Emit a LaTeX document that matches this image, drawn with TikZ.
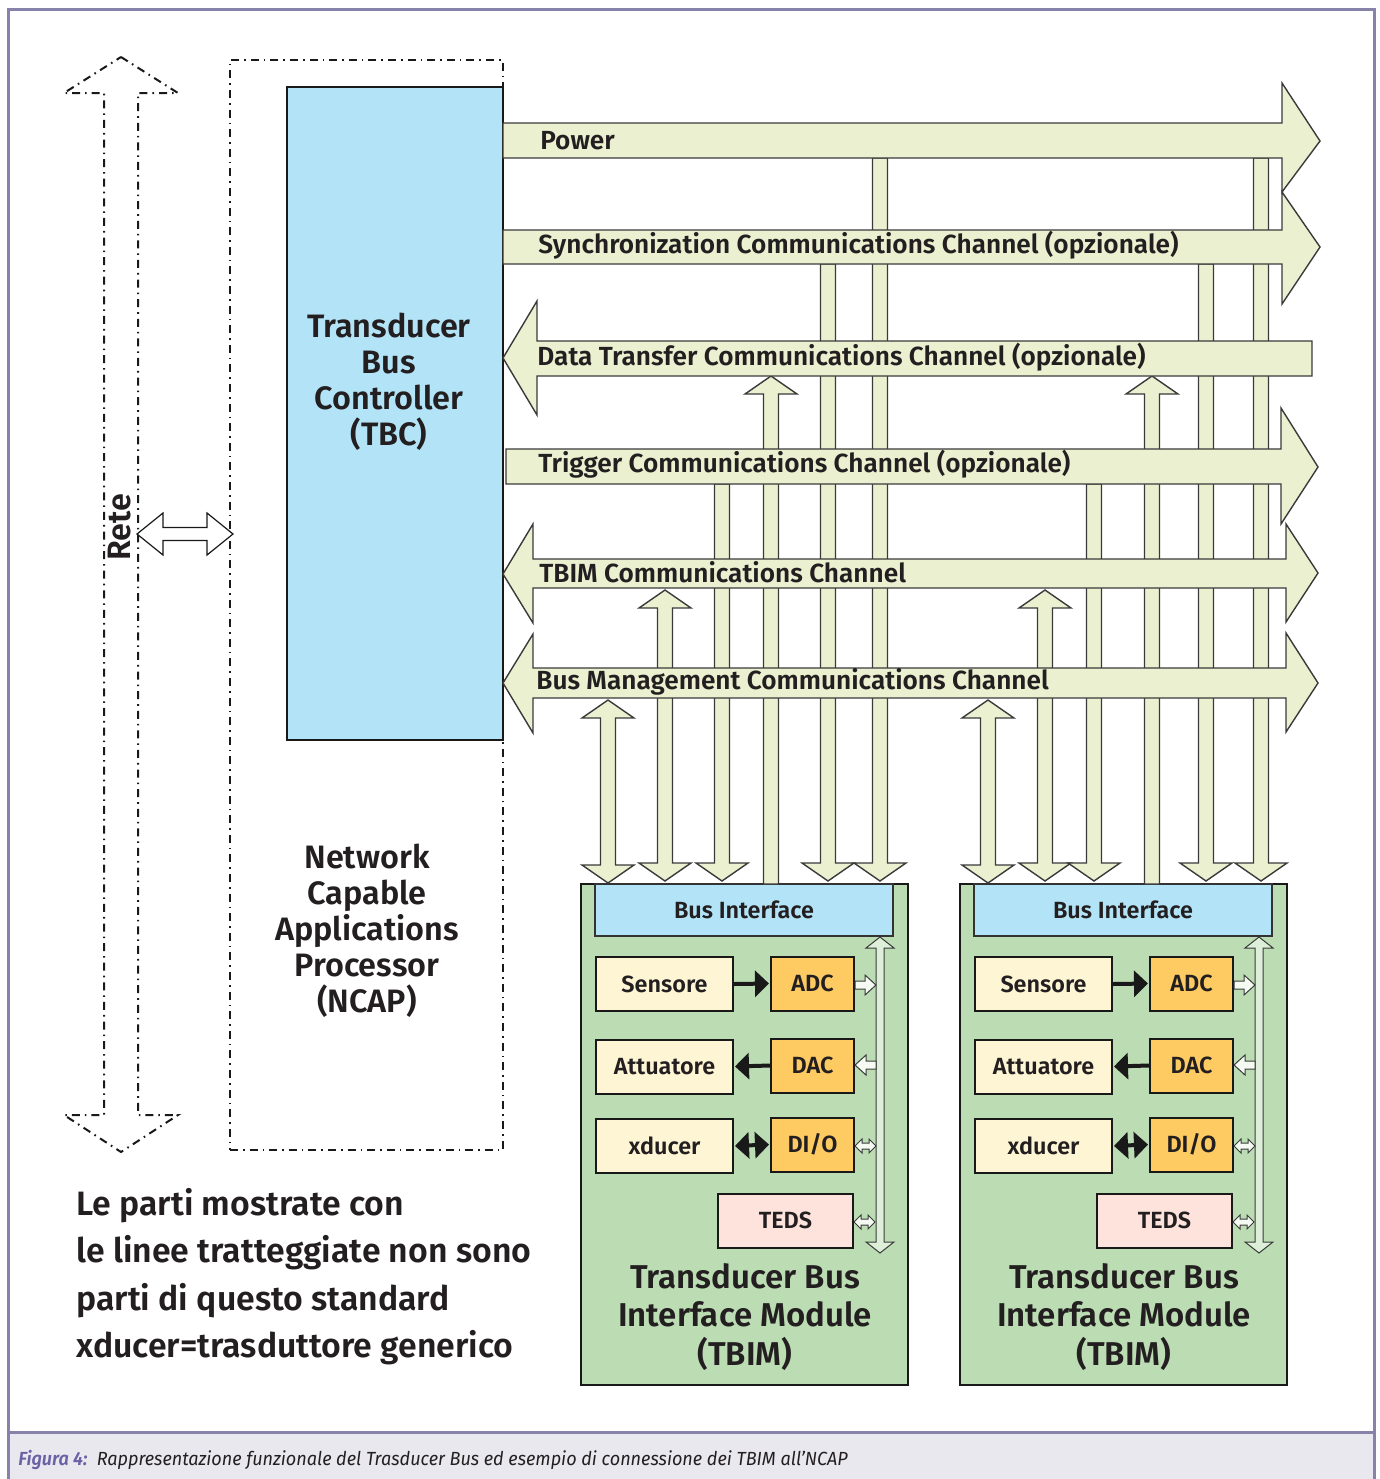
\documentclass[tikz,border=0pt]{standalone}
\usepackage{fontspec}
\setmainfont{Fira Sans}[BoldFont={Fira Sans SemiBold},BoldItalicFont={Fira Sans SemiBold Italic}]
\usetikzlibrary{arrows.meta}
\definecolor{chanfill}{HTML}{EAF0D0}
\definecolor{linegray}{HTML}{3A3A3A}
\definecolor{tbcblue}{HTML}{B3E3F7}
\definecolor{tbimgreen}{HTML}{BCDDB4}
\definecolor{creamc}{HTML}{FEF5D5}
\definecolor{orangec}{HTML}{FECB62}
\definecolor{pinkc}{HTML}{FDE3DB}
\definecolor{ibusc}{HTML}{DDEFD8}
\definecolor{framec}{HTML}{8682AA}
\definecolor{capbg}{HTML}{E9E8EF}
\definecolor{capblue}{HTML}{6B62A6}
\definecolor{textc}{HTML}{231F20}
\newcommand\FBig{\fontsize{16.2}{18}\selectfont\bfseries}
\newcommand\FChan{\fontsize{13.1}{15}\selectfont\bfseries}
\newcommand\FComp{\fontsize{11.7}{13}\selectfont\bfseries}
\newcommand\FNote{\fontsize{16.9}{20}\selectfont\bfseries}
\newcommand\FTitle{\fontsize{16.5}{19.3}\selectfont\bfseries}
\newcommand\FCap{\fontsize{9.5}{11}\selectfont\itshape}
% vertical bus arrows (x, ytop, ybottom) in px
\newcommand\VDown[3]{\draw[chan] (#1-7.5,#2) -- (#1-7.5,#3-18) -- (#1-26,#3-18) -- (#1,#3) -- (#1+26,#3-18) -- (#1+7.5,#3-18) -- (#1+7.5,#2) -- cycle;}
\newcommand\VUp[3]{\draw[chan] (#1-7.5,#3) -- (#1-7.5,#2+18) -- (#1-26,#2+18) -- (#1,#2) -- (#1+26,#2+18) -- (#1+7.5,#2+18) -- (#1+7.5,#3) -- cycle;}
\newcommand\VBoth[3]{\draw[chan] (#1-7.5,#3-18) -- (#1-7.5,#2+18) -- (#1-26,#2+18) -- (#1,#2) -- (#1+26,#2+18) -- (#1+7.5,#2+18) -- (#1+7.5,#3-18) -- (#1+26,#3-18) -- (#1,#3) -- (#1-26,#3-18) -- cycle;}
\newcommand\tbimmod[1]{%
  \node[draw=black!90, line width=1pt, fill=tbimgreen, minimum width=163.5pt, minimum height=250.5pt, inner sep=0pt] (#1box) at (744.5,1134.5) {};
  \node[draw=black!80, line width=0.8pt, fill=tbcblue, minimum width=149pt, minimum height=26pt, inner sep=0pt, font=\FComp] (#1bi) at (744,910) {Bus Interface};
  \node[comp, fill=creamc, minimum width=68.5pt] (#1sens) at (664.5,984) {Sensore};
  \node[comp, fill=orangec, minimum width=41.5pt] (#1adc) at (812.5,983.5) {ADC};
  \node[comp, fill=creamc, minimum width=68.5pt] (#1att) at (664.5,1066.5) {Attuatore};
  \node[comp, fill=orangec, minimum width=41.5pt] (#1dac) at (812.5,1065.5) {DAC};
  \node[comp, fill=creamc, minimum width=68.5pt] (#1xd) at (664.5,1146) {xducer};
  \node[comp, fill=orangec, minimum width=41.5pt] (#1dio) at (812.5,1144.5) {DI/O};
  \node[comp, fill=pinkc, minimum width=67.5pt] (#1teds) at (785.5,1220.5) {TEDS};
  \draw[thickarr] (#1sens.east) -- (#1adc.west);
  \draw[thickarr] (#1dac.west) -- (#1att.east);
  \draw[thickarr2] (#1xd.east) -- (#1dio.west);
  % internal bus
  \draw[ibus] (876,948) -- (866,948) -- (880,937) -- (894,948) -- (884,948) -- (884,1242) -- (894,1242) -- (880,1253) -- (866,1242) -- (876,1242) -- cycle;
  % small connectors
  \draw[sarr] (855,981) -- (865,981) -- (865,975) -- (876,985) -- (865,995) -- (865,989) -- (855,989) -- cycle;
  \draw[sarr] (876,1061) -- (866,1061) -- (866,1055) -- (855,1065) -- (866,1075) -- (866,1069) -- (876,1069) -- cycle;
  \draw[sarr] (855,1146) -- (862,1139) -- (862,1143) -- (869,1143) -- (869,1139) -- (876,1146) -- (869,1153) -- (869,1149) -- (862,1149) -- (862,1153) -- cycle;
  \draw[sarr] (854,1222) -- (861,1215) -- (861,1219) -- (868,1219) -- (868,1215) -- (875,1222) -- (868,1229) -- (868,1225) -- (861,1225) -- (861,1229) -- cycle;
  \node[align=center, font=\FTitle] (#1title) at (745,1317) {Transducer Bus\\Interface Module\\(TBIM)};
}
\begin{document}
\begin{tikzpicture}[x=0.5pt,y=-0.5pt,
  every node/.style={text=textc},
  chan/.style={fill=chanfill, draw=linegray, line width=0.7pt, line join=miter},
  comp/.style={draw=black!90, line width=1pt, inner sep=0pt, minimum height=27pt, font=\FComp},
  thickarr/.style={draw=black!90, line width=2pt, -{Triangle[length=7pt,width=13pt]}, shorten >=0.5pt},
  thickarr2/.style={draw=black!90, line width=2pt, {Triangle[length=7pt,width=13pt]}-{Triangle[length=7pt,width=13pt]}, shorten >=0.5pt, shorten <=0.5pt},
  ibus/.style={fill=ibusc, draw=linegray, line width=0.5pt},
  sarr/.style={fill=white!70!ibusc, draw=linegray, line width=0.5pt},
  dashdot/.style={draw=black!90, line width=1pt, dash pattern=on 4pt off 2.5pt on 0.8pt off 2.5pt}]
\useasboundingbox (0,0) rectangle (1380,1479);
% frame and caption band
\fill[capbg] (8,1432) rectangle (1374,1479);
\draw[framec, line width=1.5pt] (8,1479) -- (8,9) -- (1374,9) -- (1374,1479);
\draw[framec, line width=1.5pt] (8,1432) -- (1374,1432);
\node[anchor=base west, font=\FCap, inner sep=0pt] (caption) at (18,1465)
  {\scalebox{0.95}[1]{\textcolor{capblue}{\bfseries Figura 4:}\ \ Rappresentazione funzionale del Trasducer Bus ed esempio di connessione dei TBIM all’NCAP}};
% NCAP dash-dot region
\node[dashdot, minimum width=136.5pt, minimum height=545pt, inner sep=0pt] (ncap) at (366.5,605) {};
\node[align=center, font=\FBig] (ncaptext) at (367,931) {Network\\Capable\\Applications\\Processor\\(NCAP)};
% Rete arrow
\draw[dashdot] (121,57) -- (178,93) -- (138,93) -- (138,1115) -- (178,1115) -- (121,1152) -- (64,1115) -- (104,1115) -- (104,93) -- (64,93) -- cycle;
\node[rotate=90, font=\FBig] (rete) at (120,527) {Rete};
\draw[fill=white, draw=black!90, line width=0.6pt] (137,534) -- (163,513) -- (163,527.5) -- (207,527.5) -- (207,513) -- (233,534) -- (207,555) -- (207,540.5) -- (163,540.5) -- (163,555) -- cycle;
% TBC
\node[draw=black!90, line width=1pt, fill=tbcblue, minimum width=108pt, minimum height=326.5pt, inner sep=0pt] (tbc) at (395,413.5) {};
\node[align=center, font=\FBig] (tbctext) at (389,382) {Transducer\\Bus\\Controller\\(TBC)};
% TBIM modules
\tbimmod{a}
\begin{scope}[xshift=189.5pt]
\tbimmod{b}
\end{scope}
% vertical bus lines, TBIM 1
\VBoth{608}{700}{883}
\VBoth{665}{590}{881}
\VDown{722}{484}{881}
\VUp{771}{376}{884}
\VDown{828}{264}{881}
\VDown{880}{158}{881}
% vertical bus lines, TBIM 2
\VBoth{988}{700}{883}
\VBoth{1045}{590}{881}
\VDown{1094}{484}{881}
\VUp{1152}{376}{884}
\VDown{1206}{264}{881}
\VDown{1261}{158}{881}
% channels
\draw[chan] (503,123) -- (1282,123) -- (1282,83) -- (1320,141) -- (1282,192) -- (1282,158) -- (503,158) -- cycle;
\draw[chan] (503,230) -- (1282,230) -- (1282,192) -- (1320,247) -- (1282,304) -- (1282,264) -- (503,264) -- cycle;
\draw[chan] (1312,341) -- (537,341) -- (537,301) -- (503,358) -- (537,415) -- (537,376) -- (1312,376) -- cycle;
\draw[chan] (506,449) -- (1281,449) -- (1281,408) -- (1318,467) -- (1281,524) -- (1281,484) -- (506,484) -- cycle;
\draw[chan] (533,559) -- (1286,559) -- (1286,524) -- (1318,573) -- (1286,622) -- (1286,588) -- (533,588) -- (533,623) -- (503,574) -- (533,524) -- cycle;
\draw[chan] (533,668) -- (1286,668) -- (1286,633) -- (1318,683) -- (1286,732) -- (1286,698) -- (533,698) -- (533,733) -- (503,683) -- (533,634) -- cycle;
\node[anchor=base west, font=\FChan, inner sep=0pt] (lpower) at (540,149) {Power};
\node[anchor=base west, font=\FChan, inner sep=0pt] (lsync) at (538,253) {Synchronization Communications Channel (opzionale)};
\node[anchor=base west, font=\FChan, inner sep=0pt] (ldata) at (537,365) {Data Transfer Communications Channel (opzionale)};
\node[anchor=base west, font=\FChan, inner sep=0pt] (ltrig) at (538,472) {Trigger Communications Channel (opzionale)};
\node[anchor=base west, font=\FChan, inner sep=0pt] (ltbim) at (539,582) {TBIM Communications Channel};
\node[anchor=base west, font=\FChan, inner sep=0pt] (lbus) at (536,689) {Bus Management Communications Channel};
% note
\node[anchor=base west, font=\FNote, inner sep=0pt] (note1) at (76,1215) {Le parti mostrate con};
\node[anchor=base west, font=\FNote, inner sep=0pt] (note2) at (76,1262) {le linee tratteggiate non sono};
\node[anchor=base west, font=\FNote, inner sep=0pt] (note3) at (76,1310) {parti di questo standard};
\node[anchor=base west, font=\FNote, inner sep=0pt] (note4) at (76,1357) {xducer=trasduttore generico};
\end{tikzpicture}
\end{document}
